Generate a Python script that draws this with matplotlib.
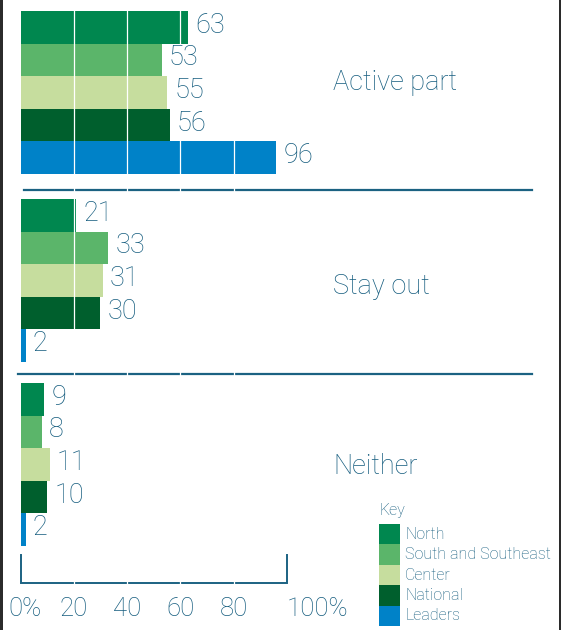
import matplotlib.pyplot as plt
from matplotlib.patches import Rectangle

plt.rcParams['font.family'] = ['Roboto', 'DejaVu Sans']

# share of answers per region, in percent
groups = ['Active part', 'Stay out', 'Neither']
series = ['North', 'South and Southeast', 'Center', 'National', 'Leaders']
north = [63, 21, 9]
south = [53, 33, 8]
center = [55, 31, 11]
national = [56, 30, 10]
leaders = [96, 2, 2]
ticks = [0, 20, 40, 60, 80, 100]
tick_labels = ['0%', '20', '40', '60', '80', '100%']

colors = ['#00874f', '#5bb56a', '#c6dd9e', '#005f2d', '#0082c8']
txt_c = '#145c7e'
line_c = '#1b6282'
fw = 'light'

fig = plt.figure(figsize=(5.61, 6.30), dpi=100)
ax = fig.add_axes([0, 0, 1, 1])
px = 2.665  # pixels per percent
ax.set_xlim(-20.5 / px, (561 - 20.5) / px)
ax.set_ylim(630, 0)
ax.axis('off')

tops = [11, 199, 383]
label_y = [82, 287, 466]
bh = 32.6
vals = [north, south, center, national, leaders]
for g, top in enumerate(tops):
    for i, v in enumerate(vals):
        y = top + (i + 0.5) * bh
        ax.barh(y, v[g], height=bh, color=colors[i], linewidth=0, zorder=2)
        ax.text(v[g] + 7 / px, y - 2, str(v[g]), color=txt_c, fontsize=19.5,
                fontweight=fw, ha='left', va='center', zorder=5)
    ax.text((333 - 20.5) / px, label_y[g], groups[g], color=txt_c,
            fontsize=19.5, fontweight=fw, ha='left', va='center', zorder=5)

# separators between groups
for y, x0 in [(189.5, 24), (373.5, 18)]:
    ax.plot([(x0 - 20.5) / px, (532 - 20.5) / px], [y, y], color=line_c, lw=1.6, zorder=3)

# bracket-shaped axis
ax.plot([0, 0, 100, 100], [555, 583, 583, 555], color=line_c, lw=1.4, zorder=3,
        solid_joinstyle='miter')

# white gridlines cut through bars and rules
for t in ticks[1:-1]:
    ax.plot([t, t], [0, 590], color='white', lw=0.9, zorder=4)

for t, lab in zip(ticks, tick_labels):
    if t == 0:
        ax.text(-12.5 / px, 609, lab, color=txt_c, fontsize=18.5, fontweight=fw,
                ha='left', va='center')
    elif t == 100:
        ax.text(t, 609, lab, color=txt_c, fontsize=18.5, fontweight=fw,
                ha='left', va='center')
    else:
        ax.text(t, 609, lab, color=txt_c, fontsize=18.5, fontweight=fw,
                ha='center', va='center')

# key
kx = (379 - 20.5) / px
sw = 21 / px
ax.text(kx, 511, 'Key', color=txt_c, fontsize=11.5, fontweight=fw, ha='left', va='center')
for i, name in enumerate(series):
    y0 = 524 + i * 20.4
    ax.add_patch(Rectangle((kx, y0), sw, 20.4, facecolor=colors[i], linewidth=0))
    ax.text(kx + 26 / px, y0 + 10.2, name, color=txt_c, fontsize=11.5,
            fontweight=fw, ha='left', va='center')

# dark page edges
fig.patches.append(Rectangle((0, 0), 3 / 561, 1, transform=fig.transFigure,
                             facecolor='#2b2b2b', linewidth=0))
fig.patches.append(Rectangle((559 / 561, 0), 2 / 561, 1, transform=fig.transFigure,
                             facecolor='#2b2b2b', linewidth=0))

fig.savefig('out.png', dpi=100)
